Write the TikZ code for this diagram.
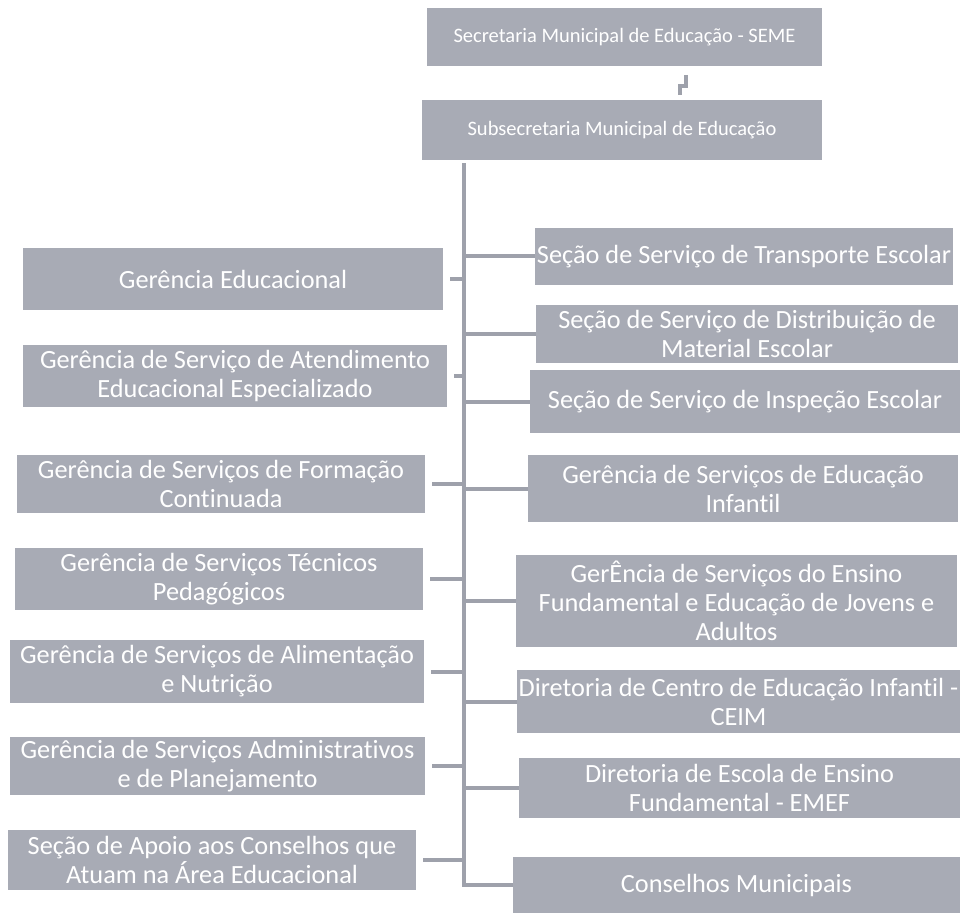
\documentclass[tikz,border=0pt]{standalone}
\usepackage{fontspec}
\setmainfont{Carlito}[Ligatures=NoCommon]
\definecolor{boxgray}{RGB}{168,171,181}
\definecolor{linegray}{RGB}{158,161,171}
\begin{document}
\begin{tikzpicture}[x=1pt,y=-1pt,
  box/.style={fill=boxgray,text=white,inner sep=0pt,align=center,
    font=\fontsize{26.3}{29}\selectfont},
  topbox/.style={box,font=\fontsize{20.5}{24}\selectfont},
  conn/.style={draw=linegray,line width=4pt}]
\useasboundingbox (0,0) rectangle (977,917);
% top
\node[topbox,minimum width=395pt,minimum height=58pt] (sec) at (624.5,37) {Secretaria Municipal de Educação - SEME};
\node[topbox,minimum width=400pt,minimum height=60pt] (sub) at (622,130) {Subsecretaria Municipal de Educação};
% left column
\node[box,minimum width=420pt,minimum height=62pt] (l1) at (233,279) {Gerência Educacional};
\node[box,minimum width=424pt,minimum height=62pt] (l2) at (235,376) {Gerência de Serviço de Atendimento\\Educacional Especializado};
\node[box,minimum width=408pt,minimum height=58pt] (l3) at (221,484) {Gerência de Serviços de Formação\\Continuada};
\node[box,minimum width=408pt,minimum height=62pt] (l4) at (219,579) {Gerência de Serviços Técnicos\\Pedagógicos};
\node[box,minimum width=414pt,minimum height=63pt] (l5) at (217,671.5) {Gerência de Serviços de Alimentação\\e Nutrição};
\node[box,minimum width=415pt,minimum height=58pt] (l6) at (217.5,766) {Gerência de Serviços Administrativos\\e de Planejamento};
\node[box,minimum width=408pt,minimum height=60pt] (l7) at (212,860) {Seção de Apoio aos Conselhos que\\Atuam na Área Educacional};
% right column
\node[box,minimum width=418pt,minimum height=57pt] (r1) at (744,256.5) {Seção de Serviço de Transporte Escolar};
\node[box,minimum width=422pt,minimum height=58pt] (r2) at (747,334) {Seção de Serviço de Distribuição de\\Material Escolar};
\node[box,minimum width=430pt,minimum height=63pt] (r3) at (745,401.5) {Seção de Serviço de Inspeção Escolar};
\node[box,minimum width=430pt,minimum height=67pt] (r4) at (743,488.5) {Gerência de Serviços de Educação\\Infantil};
\node[box,minimum width=441pt,minimum height=92pt] (r5) at (736.5,601) {GerÊncia de Serviços do Ensino\\Fundamental e Educação de Jovens e\\Adultos};
\node[box,minimum width=443pt,minimum height=63pt] (r6) at (738.5,701.5) {Diretoria de Centro de Educação Infantil -\\CEIM};
\node[box,minimum width=441pt,minimum height=60pt] (r7) at (739.5,788) {Diretoria de Escola de Ensino\\Fundamental - EMEF};
\node[box,minimum width=447pt,minimum height=56pt] (r8) at (736.5,885) {Conselhos Municipais};
% connectors
\coordinate (tx) at (464,0);
\coordinate (j1) at (686,75);
\coordinate (j2) at (680,95);
\draw[conn] (j1) -- ++(0,11) -| (j2);
\draw[conn] (sub.south -| tx) ++(0,3) -- (r8.west -| tx) -- (r8.west);
\foreach \n in {r1,r2,r3,r4,r5,r6,r7}
  \draw[conn] (\n.west -| tx) -- (\n.west);
\foreach \n in {l1,l2,l3,l4,l5,l6,l7}
  \draw[conn,shorten <=7pt] (\n.east) -- (\n.east -| tx);
\end{tikzpicture}
\end{document}
